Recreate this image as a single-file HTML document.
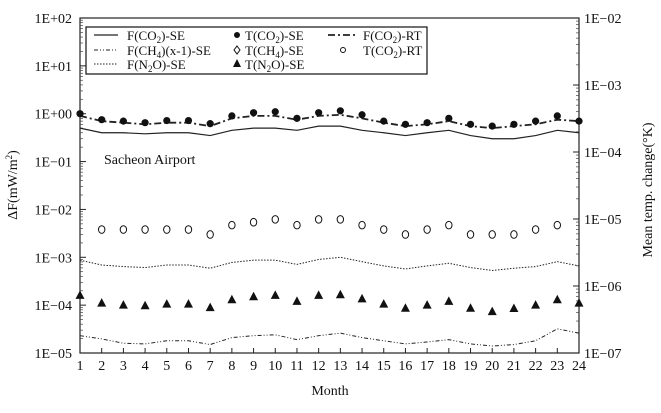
<!DOCTYPE html>
<html><head><meta charset="utf-8"><style>
body{margin:0;background:#fff;}
svg, svg text{font-family:"Liberation Serif","DejaVu Serif",serif;fill:#111;}
</style></head><body>
<svg id="c" width="661" height="408" xmlns="http://www.w3.org/2000/svg" font-family="Liberation Serif, serif"></svg>
<script>
const months=[1,2,3,4,5,6,7,8,9,10,11,12,13,14,15,16,17,18,19,20,21,22,23,24];
const fCO2SE=[0.5,0.4,0.4,0.38,0.4,0.4,0.35,0.45,0.5,0.5,0.45,0.55,0.55,0.45,0.4,0.35,0.4,0.45,0.35,0.3,0.3,0.35,0.45,0.4];
const fCO2RT=[0.9,0.7,0.65,0.6,0.65,0.65,0.55,0.8,0.9,0.9,0.75,0.9,0.95,0.8,0.65,0.55,0.6,0.7,0.55,0.5,0.55,0.6,0.75,0.7];
const tCO2SE=[1.0,0.75,0.7,0.65,0.72,0.72,0.62,0.9,1.05,1.1,0.8,1.05,1.15,0.95,0.7,0.6,0.65,0.8,0.6,0.55,0.6,0.7,0.9,0.7];
const tCH4SE=[null,3.8e-3,3.8e-3,3.8e-3,3.8e-3,3.8e-3,3.0e-3,4.7e-3,5.4e-3,6.2e-3,4.7e-3,6.2e-3,6.2e-3,4.7e-3,3.8e-3,3.0e-3,3.8e-3,4.7e-3,3.0e-3,3.0e-3,3.0e-3,3.8e-3,4.7e-3,null];
const fN2OSE=[8.7e-4,6.9e-4,6.4e-4,6.1e-4,6.9e-4,6.9e-4,5.9e-4,7.8e-4,8.7e-4,8.7e-4,7.1e-4,9e-4,1e-3,8.1e-4,6.6e-4,5.7e-4,6.6e-4,7.5e-4,6.1e-4,5.3e-4,5.9e-4,6.4e-4,8.1e-4,6.6e-4];
const tN2OSE=[1.6e-4,1.1e-4,1e-4,9.7e-5,1.05e-4,1.05e-4,8.9e-5,1.3e-4,1.5e-4,1.6e-4,1.2e-4,1.6e-4,1.65e-4,1.35e-4,1.05e-4,8.6e-5,1e-4,1.2e-4,8.6e-5,7.3e-5,8.5e-5,1e-4,1.3e-4,1.1e-4];
const fCH4SE=[2.3e-5,1.97e-5,1.6e-5,1.55e-5,1.8e-5,1.8e-5,1.5e-5,2.1e-5,2.3e-5,2.4e-5,1.9e-5,2.3e-5,2.6e-5,2.1e-5,1.8e-5,1.55e-5,1.7e-5,1.9e-5,1.55e-5,1.4e-5,1.5e-5,1.8e-5,3.2e-5,2.6e-5];
const leftTicks=["1E+02","1E+01","1E+00","1E\u221201","1E\u221202","1E\u221203","1E\u221204","1E\u221205"];
const rightTicks=["1E\u221202","1E\u221203","1E\u221204","1E\u221205","1E\u221206","1E\u221207"];

const NS="http://www.w3.org/2000/svg";
const FF="Liberation Serif, DejaVu Serif, serif";
const svg=document.getElementById('c');
const L=80,R=579,T=18,B=353;
const x=m=>L+(m-1)*(R-L)/23;
const y=v=>T+(2-Math.log10(v))*(B-T)/7;
function mk(tag,at,parent){const e=document.createElementNS(NS,tag);for(const k in at)e.setAttribute(k,at[k]);if(tag==='text')e.setAttribute('font-family',FF);(parent||svg).appendChild(e);return e;}

const frame=mk('rect',{x:L,y:T,width:R-L,height:B-T,fill:'none',stroke:'#222','stroke-width':1.2});



leftTicks.forEach((t,i)=>{
  const yy=T+i*(B-T)/7;
  const tx=mk('text',{x:72,y:yy+5,'text-anchor':'end','font-size':14});
  tx.textContent=t;
  
  
  mk('line',{x1:L,x2:L+6,y1:yy,y2:yy,stroke:'#222'});
  if(i<7)for(let k=2;k<10;k++){const yk=yy+(B-T)/7*(1-Math.log10(k));mk('line',{x1:L,x2:L+3,y1:yk,y2:yk,stroke:'#444','stroke-width':0.7});}
});
rightTicks.forEach((t,i)=>{
  const yy=T+i*(B-T)/5;
  const tx=mk('text',{x:584,y:yy+5,'font-size':14});
  tx.textContent=t;
  
  
  mk('line',{x1:R-6,x2:R,y1:yy,y2:yy,stroke:'#222'});
  if(i<5)for(let k=2;k<10;k++){const yk=yy+(B-T)/5*(1-Math.log10(k));mk('line',{x1:R-3,x2:R,y1:yk,y2:yk,stroke:'#444','stroke-width':0.7});}
});
months.forEach(m=>{
  const tx=mk('text',{x:x(m),y:370,'text-anchor':'middle','font-size':14});
  tx.textContent=m;
  
  
  mk('line',{x1:x(m),x2:x(m),y1:B,y2:B-5,stroke:'#222'});
});

function line(arr,dash,name,w){
  const pts=months.map((m,i)=>x(m)+','+y(arr[i])).join(' ');
  const p=mk('polyline',{points:pts,fill:'none',stroke:'#222','stroke-width':w||1,'stroke-dasharray':dash});
  
  
}
line(fCO2SE,'none','line-f-co2-se',1.2);
line(fCO2RT,'7 3 2 3','line-f-co2-rt',1.8);
line(fN2OSE,'1.5 1.5','line-f-n2o-se',1);
line(fCH4SE,'4 2 1 2 1 2','line-f-ch4-se',1);

months.forEach((m,i)=>{
  const c=mk('circle',{cx:x(m),cy:y(tCO2SE[i]),r:3.6,fill:'#111'});
  
  
  if(tCH4SE[i]!=null){
    const o=mk('ellipse',{cx:x(m),cy:y(tCH4SE[i]),rx:3.2,ry:3.8,fill:'#fff',stroke:'#111','stroke-width':1});
    
    
  }
  const yy=y(tN2OSE[i]),xx=x(m);
  const tr=mk('polygon',{points:`${xx},${yy-5} ${xx-4.5},${yy+3.5} ${xx+4.5},${yy+3.5}`,fill:'#111'});
  
  
});

const lg=mk('g',{});


mk('rect',{x:86,y:27,width:341,height:47,fill:'#fff',stroke:'#111','stroke-width':1.2},lg);
function ltext(tx,ty,html,name){const t=mk('text',{x:tx,y:ty,'font-size':13},lg);t.innerHTML=html;}
const sub=s=>`<tspan font-size="9" dy="3">${s}</tspan><tspan dy="-3">`;
mk('line',{x1:94,x2:118,y1:35,y2:35,stroke:'#222','stroke-width':1.2},lg);
ltext(127,40,`F(CO${sub('2')})-SE</tspan>`,'legend-f-co2-se');
mk('line',{x1:94,x2:118,y1:50,y2:50,stroke:'#222','stroke-dasharray':'4 2 1 2 1 2'},lg);
ltext(127,55,`F(CH${sub('4')})(x-1)-SE</tspan>`,'legend-f-ch4-se');
mk('line',{x1:94,x2:118,y1:64,y2:64,stroke:'#222','stroke-dasharray':'1.5 1.5'},lg);
ltext(127,69,`F(N${sub('2')}O)-SE</tspan>`,'legend-f-n2o-se');
mk('circle',{cx:237,cy:35,r:3,fill:'#111'},lg);
ltext(245,40,`T(CO${sub('2')})-SE</tspan>`,'legend-t-co2-se');
mk('path',{d:'M237,46 l3,4 l-3,4 l-3,-4z',fill:'#fff',stroke:'#111'},lg);
ltext(245,55,`T(CH${sub('4')})-SE</tspan>`,'legend-t-ch4-se');
mk('polygon',{points:'237,59 233,67 241,67',fill:'#111'},lg);
ltext(245,69,`T(N${sub('2')}O)-SE</tspan>`,'legend-t-n2o-se');
mk('line',{x1:328,x2:357,y1:35,y2:35,stroke:'#222','stroke-width':1.8,'stroke-dasharray':'7 3 2 3'},lg);
ltext(363,40,`F(CO${sub('2')})-RT</tspan>`,'legend-f-co2-rt');
mk('circle',{cx:343,cy:50,r:2.5,fill:'#fff',stroke:'#111'},lg);
ltext(363,55,`T(CO${sub('2')})-RT</tspan>`,'legend-t-co2-rt');

const ann=mk('text',{x:104,y:164,'font-size':14});
ann.textContent='Sacheon Airport';


const xt=mk('text',{x:330,y:395,'text-anchor':'middle','font-size':14});
xt.textContent='Month';


const yt=mk('text',{x:0,y:0,'text-anchor':'middle','font-size':14,transform:'translate(17,185) rotate(-90)'});
yt.innerHTML='ΔF(mW/m<tspan font-size="9" dy="-5">2</tspan><tspan dy="5">)</tspan>';


const y2=mk('text',{x:0,y:0,'text-anchor':'middle','font-size':14,transform:'translate(652,190) rotate(-90)'});
y2.textContent='Mean temp. change(°K)';


</script>
</body></html>
